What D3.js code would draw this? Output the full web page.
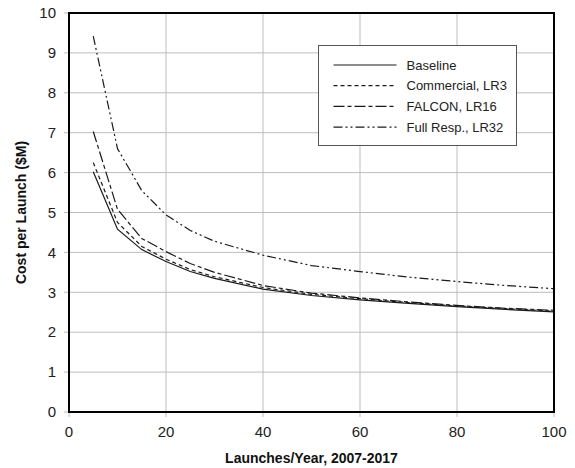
<!DOCTYPE html>
<html>
<head>
<meta charset="utf-8">
<script src="https://cdn.jsdelivr.net/npm/d3@7"></script>
<style>
  body { margin: 0; background: #fff; }
  text { font-family: "Liberation Sans", Arial, sans-serif; }
</style>
</head>
<body>
<div id="chart"></div>
<script>
// launches per year (x) and cost per launch in $M for each case
var launches   = [5, 10, 15, 20, 25, 30, 40, 50, 60, 70, 80, 90, 100];
var baseline   = [6.02, 4.58, 4.07, 3.77, 3.52, 3.35, 3.08, 2.92, 2.81, 2.72, 2.64, 2.57, 2.51];
var commercial = [6.25, 4.75, 4.15, 3.83, 3.57, 3.39, 3.12, 2.95, 2.84, 2.74, 2.66, 2.59, 2.53];
var falcon     = [7.03, 5.08, 4.35, 4.02, 3.72, 3.50, 3.17, 2.98, 2.86, 2.76, 2.67, 2.60, 2.55];
var fullResp   = [9.42, 6.60, 5.55, 4.94, 4.55, 4.28, 3.93, 3.67, 3.52, 3.38, 3.27, 3.17, 3.09];
var xTicks = [0, 20, 40, 60, 80, 100];
var yTicks = [0, 1, 2, 3, 4, 5, 6, 7, 8, 9, 10];

var series = [
  {name: "Baseline",          values: baseline,   dash: null},
  {name: "Commercial, LR3",   values: commercial, dash: "4,3"},
  {name: "FALCON, LR16",      values: falcon,     dash: "11,3,4,3"},
  {name: "Full Resp., LR32",  values: fullResp,   dash: "9,3,2,3,2,3"}
];

var width = 575, height = 468;
var margin = {left: 69, right: 21, top: 13, bottom: 56};
var plotW = width - margin.left - margin.right;
var plotH = height - margin.top - margin.bottom;

var svg = d3.select("#chart").append("svg")
  .attr("width", width)
  .attr("height", height);

var g = svg.append("g")
  .attr("transform", "translate(" + margin.left + "," + margin.top + ")");

var x = d3.scaleLinear().domain([0, 100]).range([0, plotW]);
var y = d3.scaleLinear().domain([0, 10]).range([plotH, 0]);

//gridlines (with little tick stubs outside the frame)
g.append("g").selectAll("line").data(yTicks).enter().append("line")
  .attr("x1", -5).attr("x2", plotW)
  .attr("y1", function (d) { return y(d); })
  .attr("y2", function (d) { return y(d); })
  .attr("stroke", "#bdbdbd").attr("stroke-width", 1);

g.append("g").selectAll("line").data(xTicks).enter().append("line")
  .attr("y1", 0).attr("y2", plotH + 5)
  .attr("x1", function (d) { return x(d); })
  .attr("x2", function (d) { return x(d); })
  .attr("stroke", "#bdbdbd").attr("stroke-width", 1);

// tick labels
g.append("g").selectAll("text").data(yTicks).enter().append("text")
  .attr("x", -13)
  .attr("y", function (d) { return y(d); })
  .attr("dy", "0.35em")
  .attr("text-anchor", "end")
  .style("font-size", "15px")
  .attr("fill", "#222")
  .text(function (d) { return d; });

g.append("g").selectAll("text").data(xTicks).enter().append("text")
  .attr("x", function (d) { return x(d); })
  .attr("y", plotH + 25)
  .attr("text-anchor", "middle")
  .style("font-size", "15px")
  .attr("fill", "#222")
  .text(function (d) { return d; });

// lines
var line = d3.line()
  .x(function (d, i) { return x(launches[i]); })
  .y(function (d) { return y(d); });

series.forEach(function (s) {
  g.append("path")
    .datum(s.values)
    .attr("d", line)
    .attr("fill", "none")
    .attr("stroke", "#1a1a1a")
    .attr("stroke-width", 1.2)
    .attr("stroke-dasharray", s.dash);
});

// frame
g.append("rect")
  .attr("width", plotW).attr("height", plotH)
  .attr("fill", "none").attr("stroke", "#000").attr("stroke-width", 2);

// legend
var legend = svg.append("g").attr("transform", "translate(318.5,45.5)");
legend.append("rect")
  .attr("width", 198).attr("height", 100)
  .attr("fill", "#fff").attr("stroke", "#555").attr("stroke-width", 1);

series.forEach(function (s, i) {
  var ly = 19.5 + i * 20.7;
  legend.append("line")
    .attr("x1", 15).attr("x2", 78)
    .attr("y1", ly).attr("y2", ly)
    .attr("stroke", "#1a1a1a").attr("stroke-width", 1.2)
    .attr("stroke-dasharray", s.dash);
  legend.append("text")
    .attr("x", 88).attr("y", ly)
    .attr("dy", "0.35em")
    .style("font-size", "13px")
    .attr("fill", "#222")
    .text(s.name);
});

// axis titles
svg.append("text")
  .attr("x", margin.left + plotW / 2)
  .attr("y", 463)
  .attr("text-anchor", "middle")
  .style("font-size", "14px")
  .style("font-weight", "bold")
  .attr("fill", "#111")
  .text("Launches/Year, 2007-2017");

svg.append("text")
  .attr("transform", "translate(26," + (margin.top + plotH / 2) + ")rotate(-90)")
  .attr("text-anchor", "middle")
  .style("font-size", "14px")
  .style("font-weight", "bold")
  .attr("fill", "#111")
  .text("Cost per Launch ($M)");
</script>
</body>
</html>
